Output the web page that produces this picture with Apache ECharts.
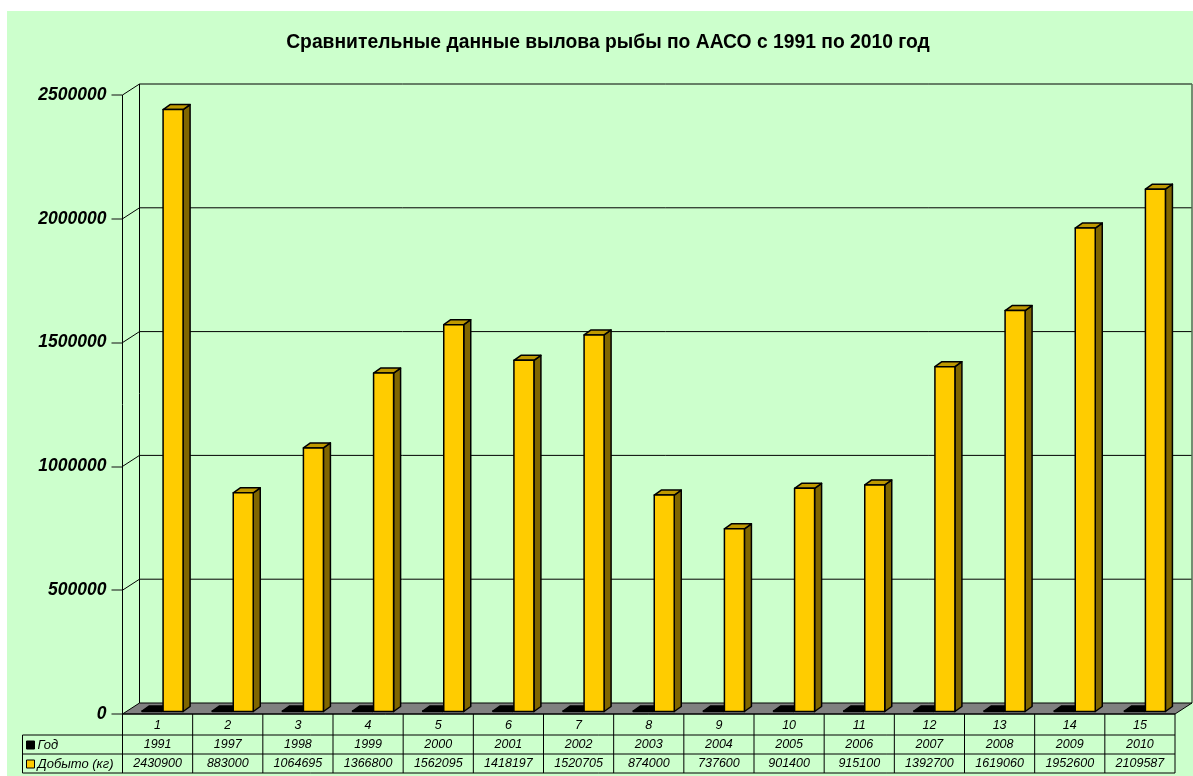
<!DOCTYPE html>
<html>
<head>
<meta charset="utf-8">
<title>Вылов рыбы</title>
<style>
html,body{margin:0;padding:0;background:#fff;}
#main{width:1193px;height:776px;}
</style>
<script src="https://cdn.jsdelivr.net/npm/echarts@6/dist/echarts.min.js"></script>
</head>
<body>
<div id="main"></div>
<script>
var titleText = 'Сравнительные данные вылова рыбы по ААСО с 1991 по 2010 год';
var categories = ['1','2','3','4','5','6','7','8','9','10','11','12','13','14','15'];
var years = [1991,1997,1998,1999,2000,2001,2002,2003,2004,2005,2006,2007,2008,2009,2010];
var caught = [2430900,883000,1064695,1366800,1562095,1418197,1520705,874000,737600,901400,915100,1392700,1619060,1952600,2109587];
var yTicks = [0,500000,1000000,1500000,2000000,2500000];
var rowNames = ['Год','Добыто (кг)'];

var FONT = '"Liberation Sans", Arial, sans-serif';
var BG = '#CCFFCC';
var LINE = '#000';
// смещение задней стенки
var DX = 17, DY = -11;

function pairs(arr){
	var res = [];
	for(var i=0;i<arr.length;i++){
		res.push([i, arr[i]]);
	}
	return res;
}

// стенки, пол и линии сетки
function renderWalls(params, api){
	if(params.dataIndex != 0) return;
	var cs = params.coordSys;
	var l = cs.x, r = cs.x + cs.width, t = cs.y, b = cs.y + cs.height;
	var kids = [];
	var style = {stroke: LINE, lineWidth: 1, fill: null};
	for(var i=1;i<yTicks.length;i++){
		var y = api.coord([0, yTicks[i]])[1];
		kids.push({type:'line', shape:{x1:l+DX,y1:y+DY,x2:r+DX,y2:y+DY}, style:style});
		kids.push({type:'line', shape:{x1:l,y1:y,x2:l+DX,y2:y+DY}, style:style});
	}
	kids.push({type:'line', shape:{x1:l,y1:t,x2:l,y2:b}, style:style});
	kids.push({type:'line', shape:{x1:l+DX,y1:t+DY,x2:l+DX,y2:b+DY}, style:style});
	kids.push({type:'line', shape:{x1:r+DX,y1:t+DY,x2:r+DX,y2:b+DY}, style:{stroke:'#556b55',lineWidth:1.5}});
	kids.push({type:'polygon', shape:{points:[[l,b],[r,b],[r+DX,b+DY],[l+DX,b+DY]]}, style:{fill:'#808080',stroke:LINE,lineWidth:1}});
	return {type:'group', children:kids};
}

// объемный столбик
function barRenderer(shift, width, front, top, side){
	return function(params, api){
		var p = api.coord([api.value(0), api.value(1)]);
		var base = api.coord([api.value(0), 0]);
		var x0 = p[0] + shift, x1 = x0 + width;
		var yb = base[1] - 2.5, yt = yb - (base[1] - p[1]);
		var dx = 7, dy = -5;
		var st = {stroke: LINE, lineWidth: 1.5, lineJoin: 'round'};
		return {type:'group', children:[
			{type:'polygon', shape:{points:[[x1,yt],[x1+dx,yt+dy],[x1+dx,yb+dy],[x1,yb]]}, style:Object.assign({fill:side},st)},
			{type:'polygon', shape:{points:[[x0,yt],[x0+dx,yt+dy],[x1+dx,yt+dy],[x1,yt]]}, style:Object.assign({fill:top},st)},
			{type:'rect', shape:{x:x0,y:yt,width:width,height:yb-yt}, style:Object.assign({fill:front},st)}
		]};
	};
}

// таблица данных под графиком
function renderTable(params, api){
	var cs = params.coordSys;
	var b = cs.y + cs.height, r = cs.x + cs.width;
	var cw = cs.width / categories.length;
	var rows = [b+21, b+40, b+59];
	var i = params.dataIndex;
	var left = cs.x + i*cw;
	var st = {stroke: LINE, lineWidth: 1};
	var kids = [
		{type:'line', shape:{x1:left+cw,y1:b,x2:left+cw,y2:rows[2]}, style:st},
		{type:'text', x:left+cw/2, y:(rows[0]+rows[1])/2, style:{text:String(years[i]),font:'italic 12.5px '+FONT,fill:'#000',align:'center',verticalAlign:'middle'}},
		{type:'text', x:left+cw/2, y:(rows[1]+rows[2])/2, style:{text:String(caught[i]),font:'italic 12.5px '+FONT,fill:'#000',align:'center',verticalAlign:'middle'}}
	];
	if(i == 0){
		var tl = cs.x - 100;
		kids.push({type:'line', shape:{x1:cs.x,y1:b,x2:r,y2:b}, style:st});
		kids.push({type:'line', shape:{x1:cs.x,y1:b,x2:cs.x,y2:rows[2]}, style:st});
		kids.push({type:'line', shape:{x1:tl,y1:rows[0],x2:tl,y2:rows[2]}, style:st});
		for(var k=0;k<rows.length;k++){
			kids.push({type:'line', shape:{x1:tl,y1:rows[k],x2:r,y2:rows[k]}, style:st});
		}
		kids.push({type:'rect', shape:{x:tl+4,y:rows[0]+6,width:8,height:8}, style:{fill:'#000',stroke:'#000',lineWidth:1}});
		kids.push({type:'rect', shape:{x:tl+4,y:rows[1]+6,width:8,height:8}, style:{fill:'#FFCC00',stroke:'#000',lineWidth:1}});
		kids.push({type:'text', x:tl+15, y:(rows[0]+rows[1])/2+1, style:{text:rowNames[0],font:'italic 13px '+FONT,fill:'#000',verticalAlign:'middle'}});
		kids.push({type:'text', x:tl+15, y:(rows[1]+rows[2])/2+1, style:{text:rowNames[1],font:'italic 13px '+FONT,fill:'#000',verticalAlign:'middle'}});
	}
	return {type:'group', children:kids};
}

var myChart = echarts.init(document.getElementById('main'));
var option = {
	animation: false,
	backgroundColor: '#fff',
	graphic: [{
		type: 'rect',
		z: -10,
		silent: true,
		shape: {x: 7, y: 11, width: 1186, height: 765},
		style: {fill: BG}
	}],
	title: {
		text: titleText,
		left: 603,
		top: 28,
		textAlign: 'center',
		textStyle: {fontFamily: FONT, fontSize: 19.3, fontWeight: 'bold', color: '#000'}
	},
	grid: {left: 122.5, top: 95, width: 1052.5, height: 619, containLabel: false},
	xAxis: {
		type: 'category',
		data: categories,
		axisLine: {show: false},
		axisTick: {show: false},
		axisLabel: {
			interval: 0,
			margin: 5,
			fontFamily: FONT,
			fontStyle: 'italic',
			fontSize: 12.5,
			color: '#000'
		}
	},
	yAxis: {
		type: 'value',
		min: 0,
		max: 2500000,
		interval: 500000,
		splitLine: {show: false},
		axisLine: {show: false},
		axisTick: {show: true, length: 11, lineStyle: {color: '#4f5f4f', width: 1.5}},
		axisLabel: {
			margin: 16,
			formatter: function(v){ return String(v); },
			fontFamily: FONT,
			fontStyle: 'italic',
			fontWeight: 'bold',
			fontSize: 17.5,
			color: '#000'
		}
	},
	series: [
		{
			type: 'custom',
			name: 'Стенки',
			silent: true,
			renderItem: renderWalls,
			data: pairs(categories),
			z: 1
		},
		{
			type: 'custom',
			name: 'Год',
			renderItem: barRenderer(-15.5, 20, '#000', '#000', '#000'),
			encode: {x: 0, y: 1},
			data: pairs(years),
			z: 2
		},
		{
			type: 'custom',
			name: 'Добыто (кг)',
			renderItem: barRenderer(5.5, 20, '#FFCC00', '#BF9900', '#806600'),
			encode: {x: 0, y: 1},
			data: pairs(caught),
			z: 3
		},
		{
			type: 'custom',
			name: 'Таблица',
			silent: true,
			renderItem: renderTable,
			data: pairs(categories),
			z: 4
		}
	]
};
myChart.setOption(option);
</script>
</body>
</html>
